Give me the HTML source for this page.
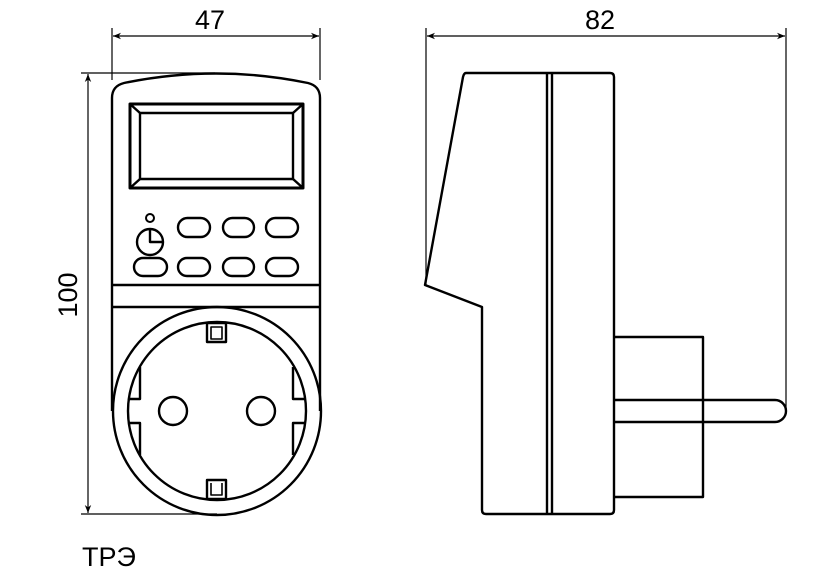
<!DOCTYPE html>
<html><head><meta charset="utf-8"><style>html,body{margin:0;padding:0;background:#fff}svg{display:block}</style></head>
<body>
<svg width="832" height="585" viewBox="0 0 832 585" xmlns="http://www.w3.org/2000/svg">
<defs>
<marker id="a" viewBox="0 0 10 10" refX="10" refY="5" markerWidth="12" markerHeight="8" orient="auto-start-reverse" markerUnits="userSpaceOnUse"><path d="M0,1 L10,5 L0,9 L3,5 Z" fill="#000"/></marker>
</defs>
<g font-family="Liberation Sans, DejaVu Sans, sans-serif" fill="#000">
<text x="210" y="29" font-size="27" text-anchor="middle">47</text>
<text x="600" y="29" font-size="27" text-anchor="middle">82</text>
<text x="0" y="0" font-size="27" text-anchor="middle" transform="translate(77,295) rotate(-90)">100</text>
<text x="82" y="566" font-size="27">ТРЭ</text>
</g>
<g stroke="#000" stroke-width="1.2" fill="none">
<line x1="112" y1="28" x2="112" y2="80"/><line x1="320" y1="28" x2="320" y2="80"/>
<line x1="113" y1="36" x2="319" y2="36" marker-start="url(#a)" marker-end="url(#a)"/>
<line x1="426" y1="28" x2="426" y2="285"/><line x1="786" y1="28" x2="786" y2="410"/>
<line x1="427" y1="36" x2="785" y2="36" marker-start="url(#a)" marker-end="url(#a)"/>
<line x1="81" y1="73" x2="215" y2="73"/><line x1="81" y1="514" x2="217" y2="514"/>
<line x1="88" y1="74" x2="88" y2="513" marker-start="url(#a)" marker-end="url(#a)"/>
</g>
<g stroke="#000" stroke-width="2.4" fill="none" stroke-linejoin="round">
<path d="M112,411 L112,98 Q112,86 124,83 Q216,64 308,83 Q320,86 320,98 L320,411"/>
<rect x="130" y="104" width="173" height="84" stroke-width="3"/>
<rect x="140" y="113" width="153" height="66" stroke-width="2.4"/>
<line x1="130" y1="104" x2="140" y2="113"/><line x1="303" y1="104" x2="293" y2="113"/>
<line x1="130" y1="188" x2="140" y2="179"/><line x1="303" y1="188" x2="293" y2="179"/>
<rect x="178" y="218" width="32" height="19" rx="9.5"/>
<rect x="223" y="218" width="31" height="19" rx="9.5"/>
<rect x="266" y="218" width="32" height="19" rx="9.5"/>
<rect x="134" y="258" width="33" height="18" rx="9"/>
<rect x="178" y="258" width="32" height="18" rx="9"/>
<rect x="223" y="258" width="31" height="18" rx="9"/>
<rect x="266" y="258" width="32" height="18" rx="9"/>
<circle cx="150" cy="242" r="13"/>
<circle cx="150" cy="218" r="4" stroke-width="2"/>
<path d="M150,229 L150,242 L163,242"/>
<line x1="112" y1="285" x2="320" y2="285"/>
<line x1="112" y1="307" x2="320" y2="307"/>
<circle cx="217" cy="411" r="104"/>
<circle cx="217" cy="411" r="89"/>
<circle cx="173" cy="411" r="14"/>
<circle cx="261" cy="411" r="14"/>
<rect x="207" y="323" width="19" height="19"/><rect x="211" y="327" width="11" height="12" stroke-width="1.6"/>
<rect x="207" y="480" width="19" height="19"/><path d="M211,483 L211,495 L222,495 L222,483" stroke-width="1.6"/>
<path d="M140,367 L140,399 L128,399"/>
<path d="M140,455 L140,423 L128,423"/>
<path d="M293,367 L293,399 L306,399"/>
<path d="M293,455 L293,423 L306,423"/>
<path d="M466,73 L610,73 Q614,73 614,77 L614,510 Q614,514 610,514 L486,514 Q482,514 482,510 L482,307 L425,285 L463,77 Q464,73 466,73 Z"/>
<line x1="547" y1="74" x2="547" y2="513"/>
<line x1="552" y1="74" x2="552" y2="513"/>
<path d="M614,337 L703,337 L703,497 L614,497"/>
<path d="M614,400 L775,400 A11,11 0 0 1 775,422 L614,422"/>
</g>
</svg>
</body></html>
